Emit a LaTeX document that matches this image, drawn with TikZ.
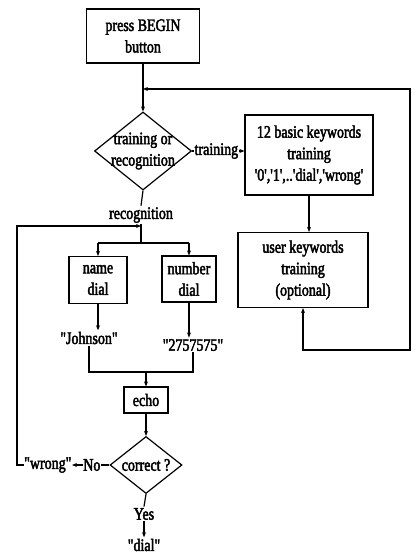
\documentclass[tikz,border=0pt]{standalone}
\usepackage{fontspec}
\setmainfont{Liberation Serif}[FakeStretch=0.8, FakeBold=2.5, Ligatures=TeXOff]
\usetikzlibrary{shapes.geometric,arrows.meta}

\begin{document}
\begin{tikzpicture}[x=1pt,y=-1pt, line width=1.2pt,
  font=\fontsize{17.5}{21.5}\selectfont,
  box/.style={draw, rectangle, align=center, inner sep=0pt},
  dia/.style={draw, diamond, inner sep=0pt},
  txt/.style={inner sep=1pt, align=center},
  >={Stealth[length=5pt,width=4pt]}]
\useasboundingbox (0,0) rectangle (415,556);

% start and mode decision
\node[box, minimum width=113pt, minimum height=54pt] (begin) at (143,36) {press BEGIN\\button};
\node[dia, minimum width=97pt, minimum height=78pt] (d1) at (143,151) {};
\node[txt] (d1t) at (d1) {training or\\recognition};
\node[txt, anchor=west, inner sep=0pt] (trn) at (194,151) {training};

% training branch
\node[box, minimum width=128pt, minimum height=80pt] (basic) at (309,155) {12 basic keywords\\training\\'0','1',..'dial','wrong'};
\node[box, minimum width=130pt, minimum height=75pt] (user) at (303,270) {user keywords\\training\\(optional)};
\coordinate (rb) at (410,350);
\coordinate (hook) at (143,89);

% recognition branch
\node[txt] (recog) at (141,215) {recognition};
\coordinate (merge1) at (141,226);
\coordinate (split) at (141,243);
\node[box, minimum width=58pt, minimum height=47pt] (name) at (98,280) {name\\dial};
\node[box, minimum width=54pt, minimum height=46pt] (num) at (189,279) {number\\dial};
\node[txt] (john) at (89,338) {"Johnson"};
\node[txt] (tel) at (193,345) {"2757575"};
\coordinate (join2) at (146,372);
\node[box, minimum width=44pt, minimum height=26pt] (echo) at (146,400) {echo};
\node[dia, minimum width=72pt, minimum height=57pt] (d2) at (146,465) {};
\node[txt] (d2t) at (d2) {correct ?};
\node[txt, anchor=east, inner sep=0pt] (no) at (101,465) {No};
\node[txt, anchor=east, inner sep=0pt] (wrong) at (72,465) {"wrong"};
\coordinate (lft) at (17,465);
\node[txt] (yes) at (144,514) {Yes};
\node[txt] (dial) at (144,545) {"dial"};

% connectors
\draw[->] (begin.south) -- (d1.north);
\draw (d1.east) -- (trn.west);
\draw[->] (trn.east) -- (trn.east -| basic.west);
\draw[->] (basic.south) -- (basic.south |- user.north);
\draw[<->] (user.south) |- (rb) |- (hook);
\draw (d1.south) -- (recog.north);
\draw (recog.south) -- (split);
\draw (split -| name.north) -- (split -| num.north);
\draw[->] (split -| name.north) -- (name.north);
\draw[->] (split -| num.north) -- (num.north);
\draw[->] (name.south) -- (name.south |- john.north);
\draw[->] (num.south) -- (num.south |- tel.north);
\draw (john.south) |- (join2) -| (tel.south);
\draw[->] (join2) -- (echo.north);
\draw[->] (echo.south) -- (d2.north);
\draw (d2.west) -- (no.east);
\draw[->] (no.west) -- (wrong.east);
\draw[->] (wrong.west) -- (lft) |- (merge1);
\draw (d2.south) -- (yes.north);
\draw[->] (yes.south) -- (dial.north);
\end{tikzpicture}
\end{document}
